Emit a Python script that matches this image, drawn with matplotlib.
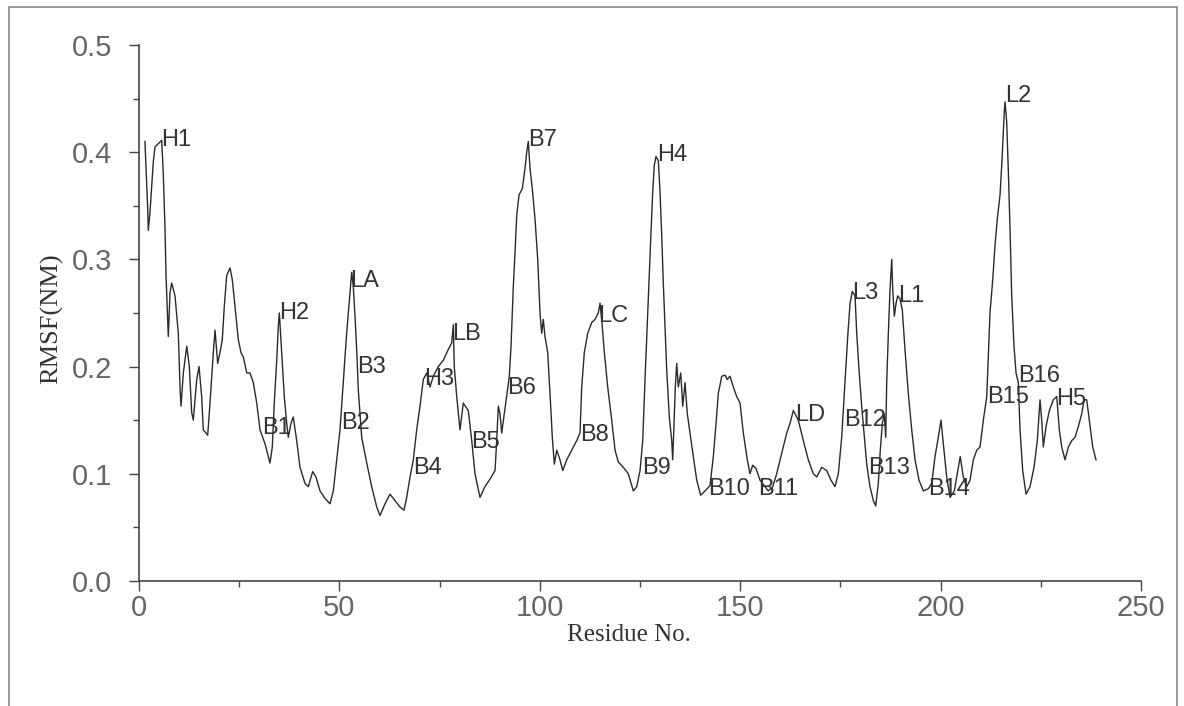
import matplotlib
matplotlib.use('Agg')
import matplotlib.pyplot as plt
from matplotlib.patches import Rectangle
from matplotlib.ticker import MultipleLocator

# RMSF profile (residue number, RMSF in nm)
residue = [
    1.48, 2.17, 2.32, 2.74, 3.57, 3.99, 5.67, 6.06, 6.48, 6.74, 7.16, 7.31, 7.74, 8.16, 8.98, 9.81,
    10.23, 10.48, 11.06, 11.91, 12.55, 13.15, 13.55, 14.40, 14.97, 15.64, 16.04, 17.14, 17.71,
    18.54, 18.96, 19.63, 20.21, 20.78, 21.28, 21.88, 22.71, 23.28, 23.95, 24.78, 25.45, 26.03,
    26.88, 27.69, 28.52, 29.37, 30.19, 31.44, 32.68, 33.26, 33.75, 34.36, 34.76, 35.01, 35.61,
    36.25, 36.85, 37.25, 37.92, 38.49, 39.34, 40.17, 41.42, 42.24, 43.33, 44.16, 45.16, 46.41,
    47.65, 48.48, 49.33, 50.15, 50.97, 51.82, 52.65, 53.07, 53.46, 53.89, 54.31, 54.72, 55.56,
    56.82, 58.06, 59.31, 60.13, 61.38, 62.62, 63.87, 65.12, 66.12, 66.79, 67.62, 68.44, 69.28,
    70.11, 70.93, 71.79, 72.60, 73.43, 74.67, 75.93, 77.17, 78.01, 78.42, 78.66, 79.27, 80.09,
    80.91, 82.16, 83.01, 83.83, 85.08, 86.32, 87.57, 88.83, 89.25, 89.64, 90.07, 90.49, 91.14,
    91.74, 92.39, 92.82, 93.39, 93.81, 94.24, 94.81, 95.64, 96.31, 96.73, 97.13, 97.56, 98.13,
    98.80, 99.48, 100.05, 100.47, 100.87, 101.29, 101.97, 102.54, 103.12, 103.62, 104.22,
    105.04, 105.72, 106.71, 107.96, 109.21, 110.03, 110.46, 111.10, 111.95, 112.95, 113.77,
    114.60, 115.02, 115.44, 116.10, 116.94, 117.94, 118.77, 119.58, 120.84, 122.08, 123.33,
    124.18, 125.01, 125.68, 126.25, 126.82, 127.32, 127.74, 128.17, 128.57, 128.99, 129.57,
    129.99, 130.42, 130.81, 131.23, 131.66, 132.31, 132.91, 133.16, 133.48, 133.81, 134.16,
    134.55, 135.16, 135.66, 136.23, 136.80, 137.47, 138.30, 139.15, 140.14, 141.22, 142.47,
    143.29, 143.97, 144.54, 145.39, 146.20, 146.78, 147.45, 148.28, 149.13, 149.95, 150.78,
    151.77, 152.44, 153.12, 153.94, 154.94, 156.19, 157.01, 158.11, 159.10, 160.35, 161.60,
    162.43, 163.25, 164.49, 165.75, 166.99, 168.24, 169.09, 170.34, 171.58, 172.65, 173.65,
    174.48, 175.32, 176.14, 176.82, 177.40, 177.97, 178.65, 179.07, 179.64, 180.31, 180.97,
    181.56, 182.38, 183.21, 183.81, 184.45, 184.95, 185.46, 185.95, 186.30, 186.55, 186.96,
    187.38, 187.80, 188.05, 188.45, 188.88, 189.30, 189.87, 190.44, 191.11, 191.94, 192.79,
    193.62, 194.61, 195.69, 196.93, 197.78, 198.60, 199.42, 200.10, 200.67, 201.52, 202.35,
    203.42, 204.42, 204.89, 205.66, 206.51, 207.34, 208.16, 209.01, 209.83, 210.66, 211.51,
    211.90, 212.32, 213.00, 213.57, 214.15, 214.82, 215.25, 215.65, 215.89, 216.07, 216.49,
    216.90, 217.32, 217.74, 218.31, 218.82, 219.39, 219.81, 220.48, 221.31, 222.31, 223.30,
    224.13, 224.80, 225.22, 225.63, 226.30, 227.13, 228.12, 228.97, 229.62, 230.21, 231.04,
    231.87, 232.72, 233.53, 234.36, 235.21, 235.78, 236.45, 237.10, 237.95, 238.77,
]
rmsf = [
    0.410, 0.347, 0.327, 0.344, 0.391, 0.405, 0.411, 0.380, 0.330, 0.285, 0.244, 0.228, 0.269,
    0.278, 0.266, 0.231, 0.181, 0.163, 0.194, 0.219, 0.200, 0.157, 0.150, 0.188, 0.200, 0.172,
    0.141, 0.136, 0.166, 0.213, 0.234, 0.203, 0.213, 0.225, 0.256, 0.285, 0.292, 0.281, 0.256,
    0.225, 0.213, 0.209, 0.194, 0.194, 0.185, 0.166, 0.141, 0.128, 0.110, 0.125, 0.166, 0.206,
    0.238, 0.250, 0.213, 0.172, 0.147, 0.134, 0.147, 0.153, 0.131, 0.106, 0.091, 0.088, 0.102,
    0.097, 0.084, 0.077, 0.072, 0.084, 0.113, 0.141, 0.185, 0.232, 0.269, 0.288, 0.275, 0.247,
    0.216, 0.178, 0.134, 0.110, 0.088, 0.069, 0.061, 0.072, 0.081, 0.075, 0.069, 0.066, 0.078,
    0.097, 0.113, 0.141, 0.163, 0.188, 0.194, 0.181, 0.191, 0.200, 0.206, 0.216, 0.222, 0.239,
    0.200, 0.172, 0.141, 0.166, 0.159, 0.131, 0.100, 0.078, 0.088, 0.095, 0.103, 0.131, 0.163,
    0.156, 0.138, 0.156, 0.172, 0.191, 0.219, 0.275, 0.306, 0.341, 0.360, 0.366, 0.385, 0.400,
    0.410, 0.385, 0.366, 0.338, 0.300, 0.250, 0.231, 0.244, 0.228, 0.213, 0.175, 0.134, 0.109,
    0.122, 0.113, 0.103, 0.113, 0.122, 0.131, 0.138, 0.181, 0.213, 0.231, 0.241, 0.244, 0.250,
    0.259, 0.244, 0.213, 0.181, 0.150, 0.122, 0.111, 0.106, 0.100, 0.084, 0.088, 0.103, 0.131,
    0.188, 0.241, 0.288, 0.325, 0.363, 0.388, 0.396, 0.392, 0.363, 0.322, 0.278, 0.238, 0.197,
    0.153, 0.131, 0.113, 0.147, 0.181, 0.203, 0.181, 0.194, 0.163, 0.185, 0.156, 0.138, 0.116,
    0.094, 0.080, 0.084, 0.089, 0.116, 0.147, 0.175, 0.191, 0.192, 0.188, 0.191, 0.181, 0.172,
    0.166, 0.138, 0.113, 0.100, 0.108, 0.105, 0.094, 0.088, 0.084, 0.088, 0.100, 0.119, 0.138,
    0.147, 0.159, 0.150, 0.131, 0.113, 0.100, 0.097, 0.106, 0.103, 0.094, 0.088, 0.100, 0.134,
    0.185, 0.228, 0.259, 0.270, 0.266, 0.231, 0.197, 0.163, 0.134, 0.109, 0.088, 0.075, 0.070,
    0.091, 0.122, 0.147, 0.156, 0.134, 0.185, 0.231, 0.272, 0.300, 0.272, 0.247, 0.259, 0.266,
    0.263, 0.253, 0.216, 0.175, 0.141, 0.113, 0.094, 0.084, 0.086, 0.091, 0.116, 0.134, 0.150,
    0.128, 0.097, 0.078, 0.084, 0.106, 0.116, 0.097, 0.088, 0.094, 0.113, 0.122, 0.125, 0.150,
    0.172, 0.209, 0.250, 0.281, 0.313, 0.338, 0.360, 0.388, 0.419, 0.438, 0.447, 0.428, 0.382,
    0.328, 0.266, 0.219, 0.194, 0.185, 0.141, 0.103, 0.081, 0.088, 0.106, 0.131, 0.169, 0.150,
    0.125, 0.144, 0.159, 0.169, 0.172, 0.141, 0.125, 0.113, 0.125, 0.131, 0.134, 0.144, 0.156,
    0.169, 0.169, 0.150, 0.125, 0.113,
]

# secondary structure tags placed on the curve
tag_names = ["H1", "B1", "H2", "B2", "LA", "B3", "B4", "H3", "LB", "B5", "B6", "B7", "B8", "LC",
             "B9", "H4", "B10", "B11", "LD", "B12", "L3", "B13", "L1", "B14", "B15", "L2",
             "B16", "H5"]
tag_x = [5.52, 30.65, 34.89, 50.36, 52.63, 54.50, 68.40, 71.15, 78.05, 82.88, 91.95, 96.98,
         109.98, 114.62, 125.46, 129.20, 142.01, 154.53, 163.60, 176.02, 177.99, 181.83,
         189.42, 196.81, 211.49, 216.03, 219.38, 228.94]
tag_y = [0.411, 0.143, 0.250, 0.147, 0.280, 0.200, 0.105, 0.188, 0.230, 0.130, 0.180, 0.411,
         0.136, 0.247, 0.105, 0.397, 0.086, 0.086, 0.155, 0.150, 0.269, 0.105, 0.266, 0.086,
         0.172, 0.452, 0.191, 0.170]

x_ticks = [0, 50, 100, 150, 200, 250]
y_ticks = [0.0, 0.1, 0.2, 0.3, 0.4, 0.5]

sans = ["Liberation Sans", "DejaVu Sans"]
serif = ["Liberation Serif", "DejaVu Serif"]

fig = plt.figure(figsize=(11.84, 7.06), dpi=100)
# thin frame drawn around the whole picture
fig.patches.append(Rectangle((0.008, -0.05), 0.986, 1.04, transform=fig.transFigure,
                             fill=False, edgecolor="#888888", linewidth=1.2))

ax = fig.add_axes([0.1174, 0.1771, 0.8463, 0.7592])
ax.plot(residue, rmsf, color="#2a2a2a", linewidth=1.0)

for name, tx, ty in zip(tag_names, tag_x, tag_y):
    ax.text(tx, ty, name, ha="left", va="center", fontsize=17, color="#333333", family=sans)

ax.set_xlim(0, 250)
ax.set_ylim(0, 0.5)
ax.set_xticks(x_ticks)
ax.set_yticks(y_ticks)
ax.set_yticklabels([f"{v:.1f}" for v in y_ticks])
ax.xaxis.set_minor_locator(MultipleLocator(25))
ax.yaxis.set_minor_locator(MultipleLocator(0.05))

for side in ["top", "right"]:
    ax.spines[side].set_visible(False)
for side in ["left", "bottom"]:
    ax.spines[side].set_color("#444444")
    ax.spines[side].set_linewidth(1.2)

ax.tick_params(which="major", direction="out", length=7.5, width=1, color="#444444",
               labelsize=21, labelcolor="#666666")
ax.tick_params(axis="y", which="major", pad=12)
ax.tick_params(axis="x", which="major", pad=2)
ax.tick_params(which="minor", direction="out", length=4, width=1, color="#444444")
for lbl in ax.get_xticklabels() + ax.get_yticklabels():
    lbl.set_family(sans)

ax.set_xlabel("Residue No.", fontsize=18, family=serif, color="#333333")
ax.set_ylabel("RMSF(NM)", fontsize=19, family=serif, color="#333333")
ax.xaxis.set_label_coords(0.489, -0.1)
ax.xaxis.label.set_verticalalignment("center")
ax.yaxis.set_label_coords(-0.087, 0.49)
ax.yaxis.label.set_verticalalignment("center")

fig.savefig("out.png", dpi=100)
